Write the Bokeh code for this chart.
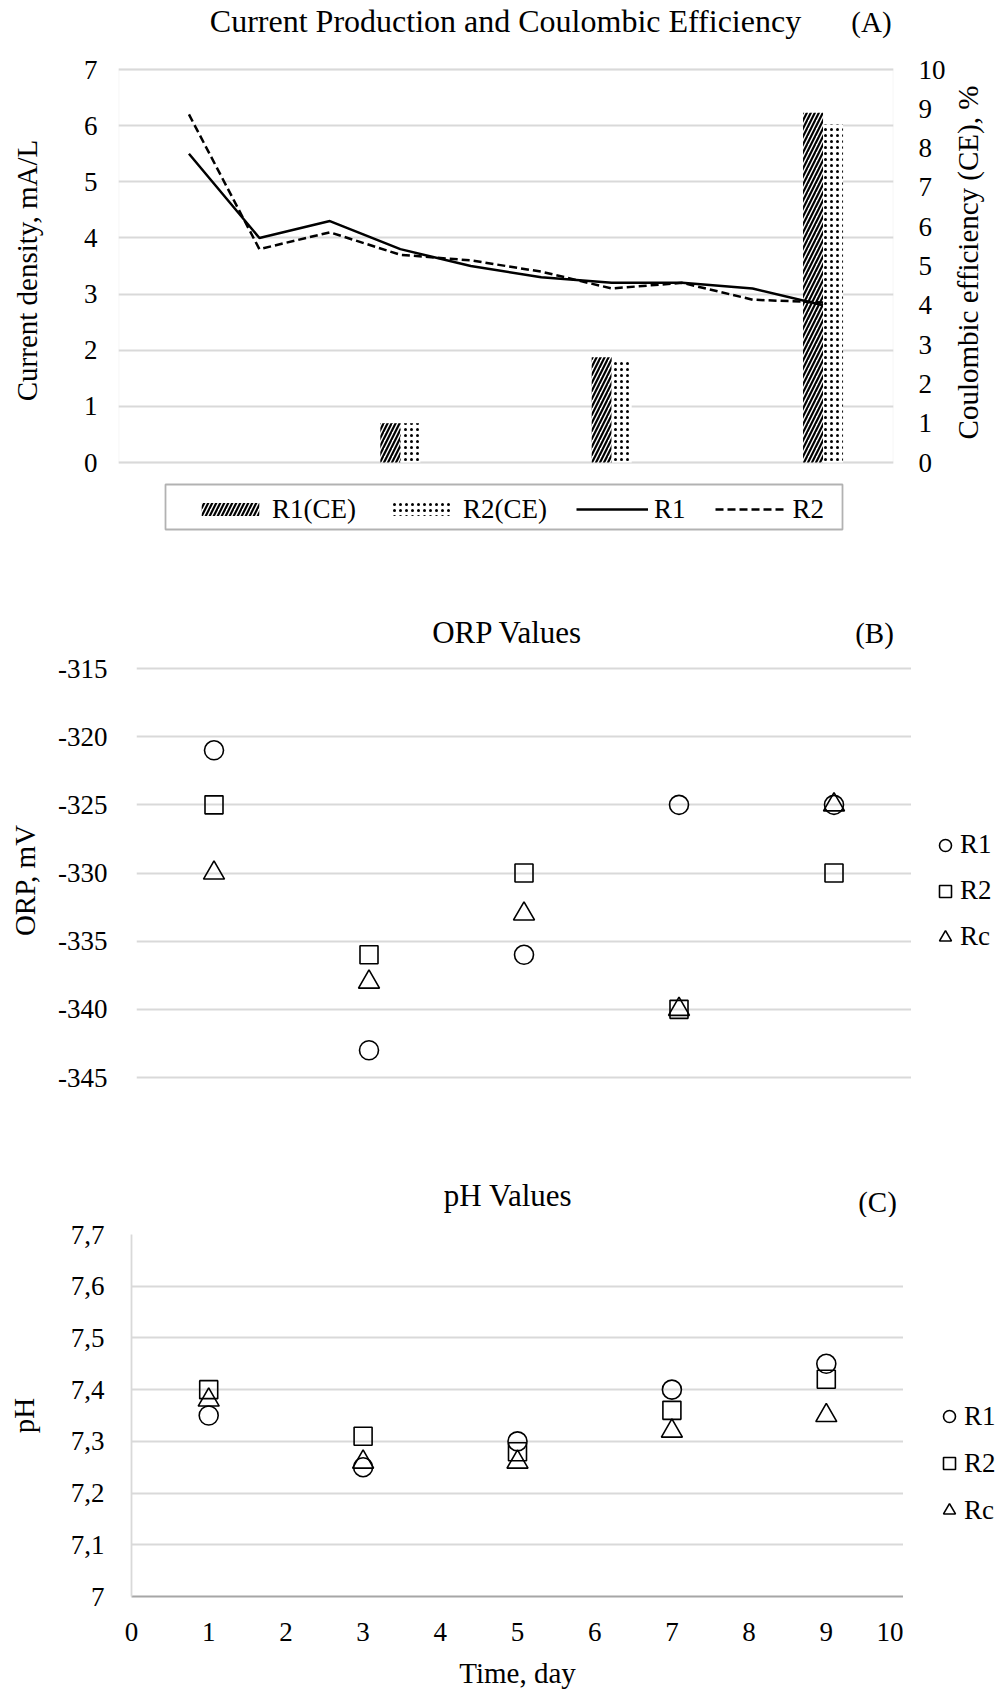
import math
from bokeh.plotting import figure
from bokeh.models import (Range1d, LinearAxis, FixedTicker, Legend, LegendItem,
                          Label, BoxAnnotation, ColumnDataSource)
from bokeh.layouts import column, row
from bokeh.transform import dodge
from bokeh.embed import file_html
from bokeh.resources import INLINE

# ---------------- data ----------------
# (A) current production (left axis) and coulombic efficiency (right axis)
a_x = [1, 2, 3, 4, 5, 6, 7, 8, 9, 10]
a_r1 = [5.5, 4.0, 4.3, 3.8, 3.5, 3.3, 3.2, 3.2, 3.1, 2.8]
a_r2 = [6.2, 3.8, 4.1, 3.7, 3.6, 3.4, 3.1, 3.2, 2.9, 2.85]
ce_x = [4, 7, 10]
ce_r1 = [1.0, 2.68, 8.9]
ce_r2 = [1.0, 2.56, 8.6]
a_left_ticks = [0, 1, 2, 3, 4, 5, 6, 7]
a_right_ticks = [0, 1, 2, 3, 4, 5, 6, 7, 8, 9, 10]

# (B) ORP values
days = [1, 3, 5, 7, 9]
orp_r1 = [-321, -343, -336, -325, -325]
orp_r2 = [-325, -336, -330, -340, -330]
orp_rc = [-330, -338, -333, -340, -325]
orp_ticks = [-345, -340, -335, -330, -325, -320, -315]
orp_tick_labels = ["-345", "-340", "-335", "-330", "-325", "-320", "-315"]

# (C) pH values
ph_r1 = [7.35, 7.25, 7.30, 7.40, 7.45]
ph_r2 = [7.40, 7.31, 7.28, 7.36, 7.42]
ph_rc = [7.38, 7.26, 7.26, 7.32, 7.35]
ph_ticks = [7, 7.1, 7.2, 7.3, 7.4, 7.5, 7.6, 7.7]
ph_tick_labels = ["7", "7,1", "7,2", "7,3", "7,4", "7,5", "7,6", "7,7"]
day_ticks = [0, 1, 2, 3, 4, 5, 6, 7, 8, 9, 10]

series_names = ["R1", "R2", "Rc"]
series_markers = ["circle", "square", "triangle"]
series_sizes = [19, 18, 21]

# ---------------- style ----------------
SERIF = "Liberation Serif"
GRID = "#d9d9d9"
TICK_FS = "27px"
AXLAB_FS = "29px"
W = 999
TSHIFT = 11   # the svg text baseline sits lower than the canvas one


def span_range(v0, p0, v1, p1, ptop, pbot):
    """Range whose value v0 sits at pixel p0 and v1 at p1 for a frame ptop..pbot."""
    per = (p0 - p1) / (v1 - v0)
    return Range1d(v0 - (pbot - p0) / per, v1 + (p1 - ptop) / per)


def conv(fl, fr, xr, ft, fb, yr):
    fx = lambda px: xr.start + (px - fl) / (fr - fl) * (xr.end - xr.start)
    fy = lambda py: yr.start + (fb - py) / (fb - ft) * (yr.end - yr.start)
    return fx, fy


def style_axis(ax, ticks, standoff):
    ax.ticker = FixedTicker(ticks=ticks)
    ax.major_label_text_font = SERIF
    ax.major_label_text_font_size = TICK_FS
    ax.major_label_text_color = "black"
    ax.major_tick_line_color = None
    ax.minor_tick_line_color = None
    ax.major_tick_out = 0
    ax.major_tick_in = 0
    ax.minor_tick_out = 0
    ax.minor_tick_in = 0
    ax.major_label_standoff = standoff
    ax.axis_label_text_font = SERIF
    ax.axis_label_text_font_size = AXLAB_FS
    ax.axis_label_text_font_style = "normal"
    ax.axis_label_text_color = "black"


def base_fig(p):
    if "frame_align" in p.properties():
        p.frame_align = False
    p.title.text = ""
    p.xgrid.visible = False
    p.ygrid.grid_line_color = GRID
    p.ygrid.grid_line_width = 1.8
    p.background_fill_color = "white"
    p.border_fill_color = "white"
    p.outline_line_color = None


def side_fig(x0, x1, y0, y1):
    """Narrow companion figure whose data coordinates are page pixels."""
    p = figure(width=x1 - x0, height=y1 - y0, x_range=Range1d(x0, x1),
               y_range=Range1d(y1, y0), x_axis_location=None, y_axis_location=None,
               output_backend="svg", toolbar_location=None, min_border_left=0,
               min_border_right=0, min_border_top=0, min_border_bottom=0)
    base_fig(p)
    p.ygrid.visible = False
    return p


def text_label(p, x, y, text, size, baseline="alphabetic", angle=0.0):
    p.add_layout(Label(x=x, y=y, text=text, text_font=SERIF, text_font_size=size,
                       text_align="center", text_baseline=baseline,
                       text_color="black", angle=angle))


mk = dict(fill_color=None, line_color="black", line_width=1.6)


def marker_legend(p, xs, series, loc, spacing):
    # the series are re-plotted here (they fall outside this strip's ranges,
    # so only their legend swatches show)
    items = []
    for name, vals, m, s in zip(series_names, series, series_markers, series_sizes):
        r = p.scatter(xs, vals, marker=m, size=s, **mk)
        items.append(LegendItem(label=name, renderers=[r]))
    p.add_layout(Legend(items=items, location=loc, padding=0, margin=0,
                        spacing=spacing, glyph_width=30, glyph_height=30,
                        label_height=20, label_standoff=0, label_text_font=SERIF,
                        label_text_font_size=TICK_FS, label_text_color="black",
                        border_line_color=None, background_fill_alpha=0))


# ================= (A) =================  page y 0..540, frame 0..540
A_T, A_B, A_L, A_R, A_W = 0, 540, 118, 893, 950
yrA = span_range(0, 462, 7, 69, A_T, A_B)
pA = figure(width=A_W, height=A_B, x_range=Range1d(0, 11), y_range=yrA,
            x_axis_location=None, output_backend="svg", toolbar_location=None,
            min_border_left=A_L, min_border_right=A_W - A_R, min_border_top=0,
            min_border_bottom=0)
base_fig(pA)
pA.extra_y_ranges = {"ce": span_range(0, 462, 10, 69, A_T, A_B)}

axA = pA.yaxis[0]
style_axis(axA, a_left_ticks, 21)
axA.axis_line_color = None
axA.axis_label = "Current density, mA/L"
axA.axis_label_standoff = 38

axR = LinearAxis(y_range_name="ce")
style_axis(axR, a_right_ticks, 25)
axR.axis_line_color = None
pA.add_layout(axR, "right")

fxA, fyA = conv(A_L, A_R, pA.x_range, A_T, A_B, yrA)

# plot-area border
pA.add_layout(BoxAnnotation(left=0, right=11, bottom=0, top=7, fill_alpha=0,
                            line_color=GRID, line_width=1.8, level="underlay"))

src_ce = ColumnDataSource(dict(x=ce_x, r1=ce_r1, r2=ce_r2))
BW = 0.284
b1 = pA.vbar(x=dodge("x", -BW / 2, range=pA.x_range), top="r1", width=BW,
             source=src_ce, y_range_name="ce", fill_color="white", line_color=None,
             hatch_pattern="right_diagonal_line", hatch_color="black",
             hatch_scale=8, hatch_weight=2.2)
b2 = pA.vbar(x=dodge("x", BW / 2, range=pA.x_range), top="r2", width=BW,
             source=src_ce, y_range_name="ce", fill_color="white", line_color=None,
             hatch_pattern="dot", hatch_color="black", hatch_scale=6, hatch_weight=1)
l1 = pA.line(a_x, a_r1, line_color="black", line_width=2.5)
l2 = pA.line(a_x, a_r2, line_color="black", line_width=2.5, line_dash="8 4")

legA = Legend(items=[LegendItem(label="R1(CE)", renderers=[b1]),
                     LegendItem(label="R2(CE)", renderers=[b2]),
                     LegendItem(label="R1", renderers=[l1]),
                     LegendItem(label="R2", renderers=[l2])],
              orientation="horizontal", location=(194 - A_L, A_B - 524.5),
              padding=0, spacing=29, glyph_width=72, glyph_height=16,
              label_height=16, label_standoff=6, label_text_font=SERIF,
              label_text_font_size=TICK_FS, label_text_color="black",
              border_line_color=None, background_fill_alpha=0)
pA.add_layout(legA)
pA.add_layout(BoxAnnotation(left=fxA(165), right=fxA(842), top=fyA(484),
                            bottom=fyA(529), fill_alpha=0, line_color="black",
                            line_width=1.8, level="overlay"))

text_label(pA, fxA(505), fyA(31.7 - TSHIFT), "Current Production and Coulombic Efficiency", "32px")
text_label(pA, fxA(871), fyA(32 - TSHIFT), "(A)", "29px")

# right axis title, in a narrow companion figure so it reads bottom-to-top
pA2 = side_fig(A_W, W, 0, A_B)
text_label(pA2, 967, 262, "Coulombic efficiency (CE), %", AXLAB_FS,
           baseline="middle", angle=math.pi / 2)

# ================= (B) =================  page y 540..1217, frame 543..1217
B_TOP, B_BOT = 540, 1217
B_T, B_B, B_L, B_R = 543, 1217, 136, 911
yrB = span_range(-345, 1077, -315, 668, B_T, B_B)
pB = figure(width=B_R, height=B_BOT - B_TOP, x_range=Range1d(0, 10), y_range=yrB,
            x_axis_location=None, output_backend="svg", toolbar_location=None,
            min_border_left=B_L, min_border_right=0,
            min_border_top=B_T - B_TOP, min_border_bottom=B_BOT - B_B)
base_fig(pB)
axB = pB.yaxis[0]
style_axis(axB, orp_ticks, 29)
axB.major_label_overrides = dict(zip(orp_ticks, orp_tick_labels))
axB.axis_line_color = None
axB.axis_label = "ORP, mV"
axB.axis_label_standoff = 14

fxB, fyB = conv(B_L, B_R, pB.x_range, B_T, B_B, yrB)

for vals, m, s in zip([orp_r1, orp_r2, orp_rc], series_markers, series_sizes):
    pB.scatter(days, vals, marker=m, size=s, **mk)

text_label(pB, fxB(507), fyB(643 - TSHIFT), "ORP Values", "31px")
text_label(pB, fxB(874), fyB(643 - TSHIFT), "(B)", "29px")
# titles of panel C live in the empty lower band of this frame
text_label(pB, fxB(507.5), fyB(1206 - TSHIFT), "pH Values", "31px")
text_label(pB, fxB(877), fyB(1212 - TSHIFT), "(C)", "29px")

pB2 = side_fig(B_R, W, B_TOP, B_BOT)
marker_legend(pB2, days, [orp_r1, orp_r2, orp_rc], (930 - B_R, B_BOT - 952), 15)

# ================= (C) =================  page y 1217..1691, frame 1234..1597
C_TOP, C_BOT = 1217, 1691
C_T, C_B, C_L, C_R = 1234, 1597, 131, 903
pC = figure(width=C_R, height=C_BOT - C_TOP, x_range=Range1d(0, 10),
            y_range=Range1d(7, 7.7), output_backend="svg", toolbar_location=None,
            min_border_left=C_L, min_border_right=0,
            min_border_top=C_T - C_TOP, min_border_bottom=C_BOT - C_B)
base_fig(pC)
axCy = pC.yaxis[0]
style_axis(axCy, ph_ticks, 27)
axCy.major_label_overrides = dict(zip(ph_ticks, ph_tick_labels))
axCy.axis_line_color = GRID
axCy.axis_line_width = 1.8
axCy.axis_label = "pH"
axCy.axis_label_standoff = 28

axCx = pC.xaxis[0]
style_axis(axCx, day_ticks, 26)
axCx.axis_line_color = "#a6a6a6"
axCx.axis_line_width = 2
axCx.axis_label = "Time, day"
axCx.axis_label_standoff = 13

for vals, m, s in zip([ph_r1, ph_r2, ph_rc], series_markers, series_sizes):
    pC.scatter(days, vals, marker=m, size=s, **mk)

pC2 = side_fig(C_R, W, C_TOP, C_BOT)
marker_legend(pC2, days, [ph_r1, ph_r2, ph_rc], (934 - C_R, C_BOT - 1525.5), 16)

layout = column(row(pA, pA2), row(pB, pB2), row(pC, pC2))
open("out.html", "w").write(file_html(layout, INLINE))
